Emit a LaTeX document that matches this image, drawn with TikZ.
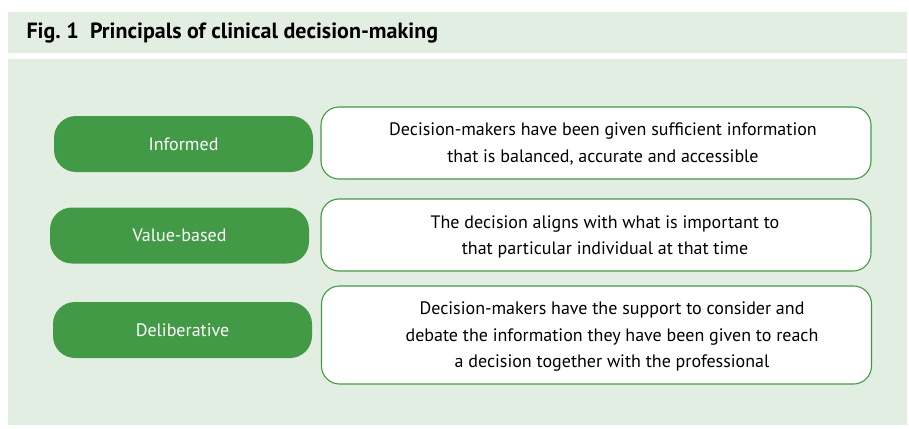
\documentclass[tikz,border=0pt]{standalone}
\usepackage{fontspec}
\setmainfont{PT Sans}
\usetikzlibrary{positioning}

\definecolor{leaf}{HTML}{439A46}
\definecolor{panel}{HTML}{E2EEE2}

\tikzset{
  pill/.style={rounded corners=22pt, fill=leaf, text=white, minimum width=259pt,
    minimum height=56pt, font=\fontsize{18}{21}\selectfont},
  descbox/.style={draw=leaf, line width=1.1pt, fill=white, rounded corners=18pt,
    minimum width=550pt},
  desctext/.style={align=center, font=\fontsize{18}{26.5}\selectfont},
}

\begin{document}
\begin{tikzpicture}[x=1pt, y=-1pt]
    \useasboundingbox (0,0) rectangle (909,428);

    % Title strip and main panel
    \fill[panel] (8,12) rectangle (907,53);
    \fill[panel] (8,59) rectangle (907,425);
    \node[anchor=west, font=\bfseries\fontsize{22}{26}\selectfont] (title) at (23,33)
        {Fig.~1\ \ Principals of clinical decision-making};

    % Green principle labels
    \node[pill] (informed) at (183.5,144) {Informed};
    \node[pill] (value) at (179.5,235.5) {Value-based};
    \node[pill] (delib) at (182.5,330) {Deliberative};

    % White description boxes
    \node[descbox, minimum height=72pt] (infobox) at (596,143) {};
    \node[descbox, minimum height=72pt] (valuebox) at (596,235) {};
    \node[descbox, minimum height=98pt] (delibbox) at (596.5,335) {};

    \node[desctext] (infotext) at (603,144)
        {Decision-makers have been given sufficient information\\
         that is balanced, accurate and accessible};
    \node[desctext] (valuetext) at (605,237)
        {The decision aligns with what is important to\\
         that particular individual at that time};
    \node[desctext] (delibtext) at (612,337)
        {Decision-makers have the support to consider and\\
         debate the information they have been given to reach\\
         a decision together with the professional};
\end{tikzpicture}
\end{document}
